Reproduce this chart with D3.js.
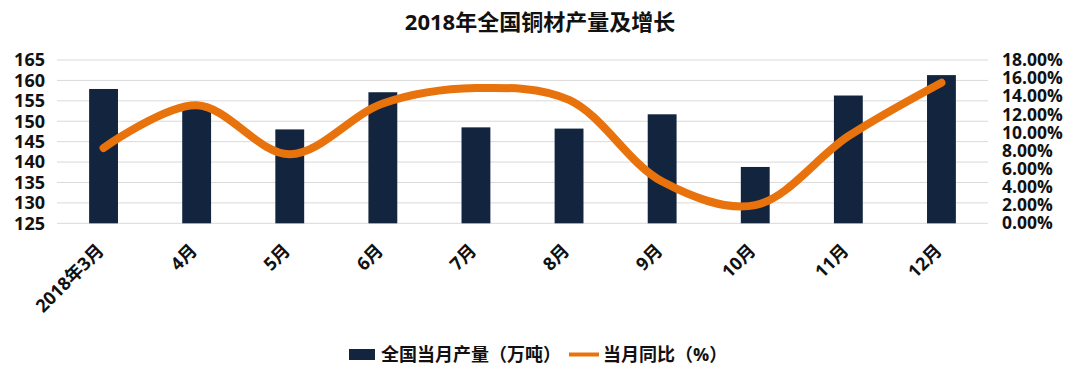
<!DOCTYPE html>
<html>
<head>
<meta charset="utf-8">
<script src="https://cdn.jsdelivr.net/npm/d3@7"></script>
<style>
  html, body { margin: 0; padding: 0; background: #fff; }
  svg { display: block; font-family: "Open Sans", "Noto Sans CJK SC", sans-serif; font-weight: 700; }
</style>
</head>
<body>
<svg id="chart" width="1080" height="381"></svg>
<script>
const categories = ["2018年3月", "4月", "5月", "6月", "7月", "8月", "9月", "10月", "11月", "12月"];
const output = [157.9, 153.8, 148.0, 157.1, 148.5, 148.2, 151.7, 138.8, 156.3, 161.3];
const yoy = [8.3, 13.0, 7.6, 13.2, 14.9, 13.6, 4.6, 2.0, 9.6, 15.5];
const leftTicks = [125, 130, 135, 140, 145, 150, 155, 160, 165];
const rightTicks = [0, 2, 4, 6, 8, 10, 12, 14, 16, 18];
const title = "2018年全国铜材产量及增长";
const seriesNames = ["全国当月产量（万吨）", "当月同比（%）"];

const barColor = "#13243f";
const lineColor = "#e8720c";

const svg = d3.select("#chart");
const pLeft = 57, pRight = 988, pTop = 60, pBottom = 223.3;

const x = d3.scaleBand().domain(categories).range([pLeft, pRight])
  .paddingInner(0.69).paddingOuter(0.345);
const yL = d3.scaleLinear().domain([125, 165]).range([pBottom, pTop]);
const yR = d3.scaleLinear().domain([0, 18]).range([pBottom, pTop]);

// title
svg.append("text").attr("x", 540).attr("y", 30).attr("text-anchor", "middle")
  .attr("font-size", 22).attr("fill", "#111").text(title);

// gridlines
svg.append("g").selectAll("line").data(leftTicks).join("line")
  .attr("x1", pLeft).attr("x2", pRight)
  .attr("y1", d => yL(d)).attr("y2", d => yL(d))
  .attr("stroke", "#d9d9d9").attr("stroke-width", 1);

// left axis
const gL = svg.append("g").attr("transform", `translate(${pLeft - 12},0)`)
  .call(d3.axisLeft(yL).tickValues(leftTicks).tickSize(0).tickPadding(0));
gL.select(".domain").remove();
gL.selectAll("text").attr("font-size", 18).attr("font-family", "Open Sans, sans-serif")
  .attr("font-weight", 700).attr("fill", "#111");

// right axis
const gR = svg.append("g").attr("transform", `translate(${pRight + 14},0)`)
  .call(d3.axisRight(yR).tickValues(rightTicks).tickSize(0).tickPadding(0)
    .tickFormat(d => d.toFixed(2) + "%"));
gR.select(".domain").remove();
gR.selectAll("text").attr("font-size", 17.5).attr("font-family", "Open Sans, sans-serif")
  .attr("font-weight", 700).attr("fill", "#111");

// bars
svg.append("g").selectAll("rect").data(output).join("rect")
  .attr("x", (d, i) => x(categories[i]))
  .attr("width", x.bandwidth())
  .attr("y", d => yL(d))
  .attr("height", d => yL(125) - yL(d))
  .attr("fill", barColor);

// x labels
svg.append("g").selectAll("text").data(categories).join("text")
  .attr("transform", d => `translate(${x(d) + x.bandwidth() / 2 - 3},${pBottom + 24}) rotate(-45)`)
  .attr("text-anchor", "end").attr("dy", "0.35em")
  .attr("font-size", 18).attr("fill", "#111").text(d => d);

// line
const line = d3.line()
  .x((d, i) => x(categories[i]) + x.bandwidth() / 2)
  .y(d => yR(d))
  .curve(d3.curveCatmullRom.alpha(0.5));
svg.append("path").datum(yoy).attr("d", line)
  .attr("fill", "none").attr("stroke", lineColor).attr("stroke-width", 8)
  .attr("stroke-linecap", "round").attr("stroke-linejoin", "round");

// legend
const lg = svg.append("g");
lg.append("rect").attr("x", 349).attr("y", 349).attr("width", 26).attr("height", 11).attr("fill", barColor);
lg.append("text").attr("x", 381).attr("y", 354.5).attr("dy", "0.35em").attr("font-size", 18)
  .attr("fill", "#111").text(seriesNames[0]);
lg.append("line").attr("x1", 569).attr("x2", 599).attr("y1", 354.5).attr("y2", 354.5)
  .attr("stroke", lineColor).attr("stroke-width", 4);
lg.append("text").attr("x", 603).attr("y", 354.5).attr("dy", "0.35em").attr("font-size", 18)
  .attr("fill", "#111").text(seriesNames[1]);
</script>
</body>
</html>
